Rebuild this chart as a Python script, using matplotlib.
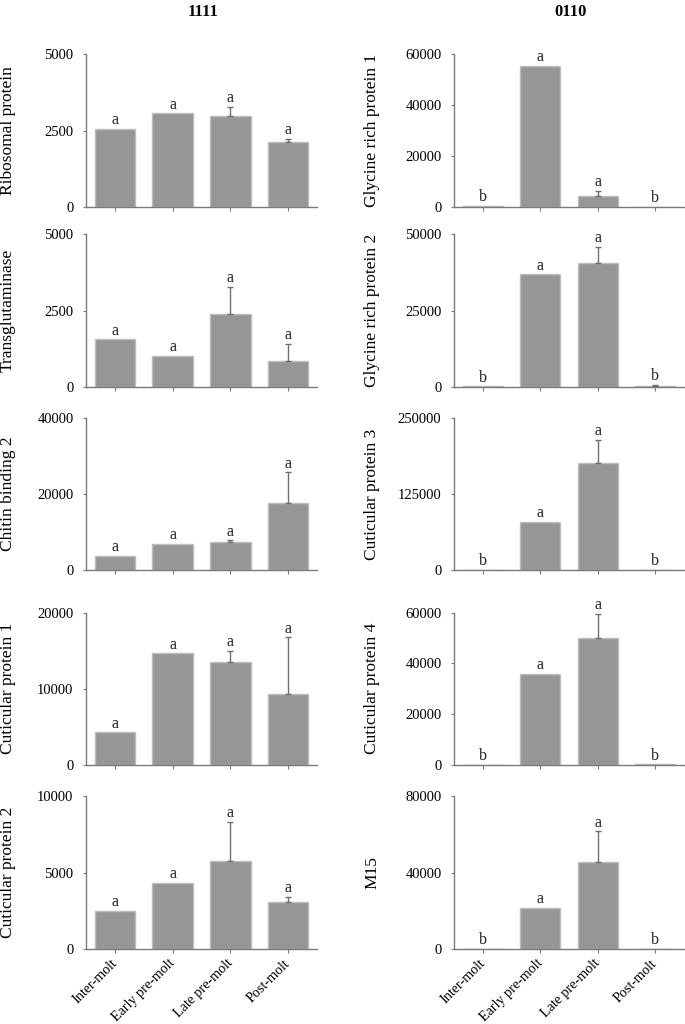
import matplotlib
matplotlib.use("Agg")
import matplotlib.pyplot as plt
import matplotlib.transforms as mtransforms
import numpy as np

plt.rcParams['font.family'] = ['Liberation Serif', 'DejaVu Serif']

stages = ["Inter-molt", "Early pre-molt", "Late pre-molt", "Post-molt"]

# ---- column 1111 ----
ribosomal = [2570, 3070, 2990, 2135]
ribosomal_err = [0, 0, 300, 110]
ribosomal_sig = ["a", "a", "a", "a"]

transglut = [1560, 1015, 2380, 840]
transglut_err = [0, 0, 895, 580]
transglut_sig = ["a", "a", "a", "a"]

chitin2 = [3680, 6830, 7280, 17600]
chitin2_err = [0, 0, 520, 8060]
chitin2_sig = ["a", "a", "a", "a"]

cuticular1 = [4280, 14630, 13530, 9300]
cuticular1_err = [0, 0, 1440, 7430]
cuticular1_sig = ["a", "a", "a", "a"]

cuticular2 = [2480, 4310, 5770, 3070]
cuticular2_err = [0, 0, 2530, 330]
cuticular2_sig = ["a", "a", "a", "a"]

# ---- column 0110 ----
glycine1 = [500, 55400, 4550, 100]
glycine1_err = [0, 0, 1840, 0]
glycine1_sig = ["b", "a", "a", "b"]

glycine2 = [200, 36880, 40580, 400]
glycine2_err = [0, 0, 5350, 250]
glycine2_sig = ["b", "a", "a", "b"]

cuticular3 = [300, 79600, 176300, 300]
cuticular3_err = [0, 0, 37900, 0]
cuticular3_sig = ["b", "a", "a", "b"]

cuticular4 = [150, 35970, 50150, 300]
cuticular4_err = [0, 0, 9220, 0]
cuticular4_sig = ["b", "a", "a", "b"]

m15 = [150, 21600, 45500, 150]
m15_err = [0, 0, 16040, 0]
m15_sig = ["b", "a", "a", "b"]

col_titles = ["1111", "0110"]

left_panels = [
    ("Ribosomal protein", ribosomal, ribosomal_err, ribosomal_sig, [0, 2500, 5000]),
    ("Transglutaminase", transglut, transglut_err, transglut_sig, [0, 2500, 5000]),
    ("Chitin binding 2", chitin2, chitin2_err, chitin2_sig, [0, 20000, 40000]),
    ("Cuticular protein 1", cuticular1, cuticular1_err, cuticular1_sig, [0, 10000, 20000]),
    ("Cuticular protein 2", cuticular2, cuticular2_err, cuticular2_sig, [0, 5000, 10000]),
]
right_panels = [
    ("Glycine rich protein 1", glycine1, glycine1_err, glycine1_sig, [0, 20000, 40000, 60000]),
    ("Glycine rich protein 2", glycine2, glycine2_err, glycine2_sig, [0, 25000, 50000]),
    ("Cuticular protein 3", cuticular3, cuticular3_err, cuticular3_sig, [0, 125000, 250000]),
    ("Cuticular protein 4", cuticular4, cuticular4_err, cuticular4_sig, [0, 20000, 40000, 60000]),
    ("M15", m15, m15_err, m15_sig, [0, 40000, 80000]),
]

W, H = 685, 1024
fig = plt.figure(figsize=(W / 100, H / 100), dpi=100)

rows_px = [(54.3, 207.3), (234.3, 387.0), (418.0, 570.0), (612.5, 765.0), (796.0, 949.0)]
cols_px = [(86, 231, 8), (454, 230, 372)]

bar_color = "#969696"
edge_color = "#bdbdbd"
axis_color = "#7a7a7a"
err_color = "#6e6e6e"

shift = mtransforms.ScaledTranslation(0.05, 0.03, fig.dpi_scale_trans)

x = np.arange(len(stages))
for ci, panels in enumerate([left_panels, right_panels]):
    x0, wpx, labx = cols_px[ci]
    for ri, (name, vals, errs, sig, ticks) in enumerate(panels):
        top, bot = rows_px[ri]
        ax = fig.add_axes([x0 / W, 1 - bot / H, wpx / W, (bot - top) / H])
        ax.bar(x, vals, width=0.7, color=bar_color, edgecolor=edge_color, linewidth=1.0, zorder=2)
        for xi, v, e in zip(x, vals, errs):
            if e > 0:
                ax.errorbar([xi], [v], yerr=[[0], [e]], fmt="none", ecolor=err_color,
                            elinewidth=1.0, capsize=2.5, capthick=1.0, zorder=3)
        for xi, v, e, s in zip(x, vals, errs, sig):
            ax.annotate(s, (xi, v + e), xytext=(0, 0.5), textcoords="offset points",
                        ha="center", va="bottom", fontsize=11.5, color="#222222")
        ax.set_xlim(-0.5, 3.5)
        ax.set_ylim(0, ticks[-1])
        ax.set_yticks(ticks)
        ax.set_yticklabels([str(t) for t in ticks], fontsize=10.5)
        ax.set_xticks(x)
        if ri == 4:
            ax.set_xticklabels(stages, rotation=45, ha="right", va="center",
                               rotation_mode="anchor", fontsize=10.2)
            for lbl in ax.get_xticklabels():
                lbl.set_transform(lbl.get_transform() + shift)
        else:
            ax.set_xticklabels([])
        for sp in ["top", "right"]:
            ax.spines[sp].set_visible(False)
        for sp in ["left", "bottom"]:
            ax.spines[sp].set_color(axis_color)
            ax.spines[sp].set_linewidth(1.0)
        ax.tick_params(axis="x", direction="out", length=3, color=axis_color, pad=6)
        ax.tick_params(axis="y", direction="out", length=2.5, color=axis_color, pad=6.5)
        fig.text(labx / W, 1 - (top + bot) / 2 / H, name, rotation=90, ha="center",
                 va="center", fontsize=12.5)

fig.text(203 / W, 1 - 12 / H, col_titles[0], ha="center", va="center", fontsize=12, fontweight="bold")
fig.text(571 / W, 1 - 12 / H, col_titles[1], ha="center", va="center", fontsize=12, fontweight="bold")

fig.savefig("out.png", dpi=100)
